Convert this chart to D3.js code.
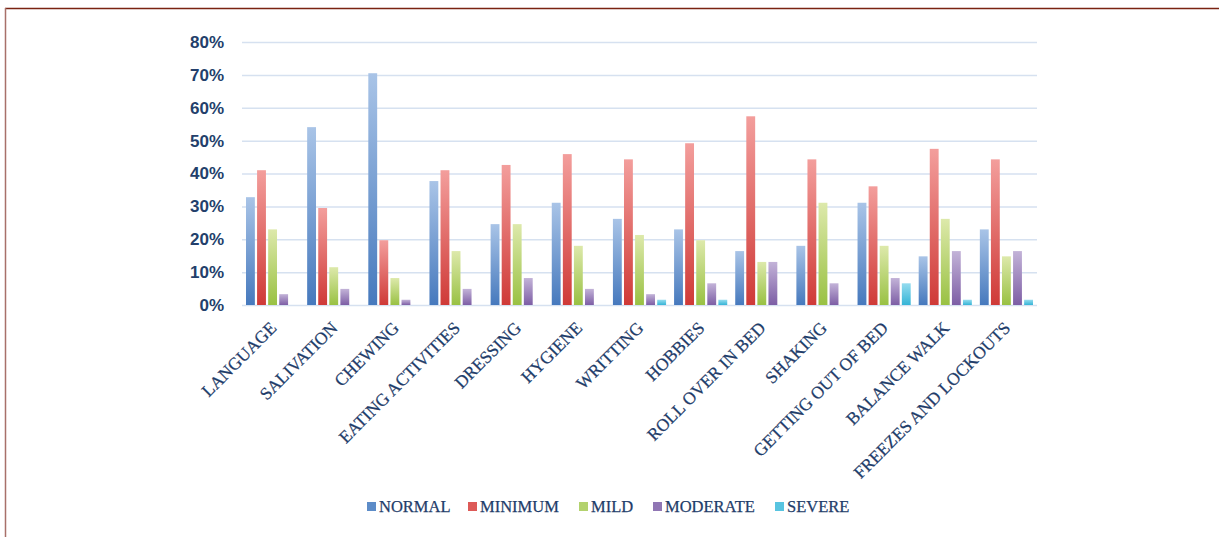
<!DOCTYPE html>
<html><head><meta charset="utf-8">
<script src="https://cdn.jsdelivr.net/npm/d3@7"></script>
<style>html,body{margin:0;padding:0;background:#fff;}svg{display:block;}</style>
</head><body>
<svg id="c" width="1219" height="537"></svg>
<script>
const categories = ["LANGUAGE","SALIVATION","CHEWING","EATING ACTIVITIES","DRESSING","HYGIENE","WRITTING","HOBBIES","ROLL OVER IN BED","SHAKING","GETTING OUT OF BED","BALANCE WALK","FREEZES AND LOCKOUTS"];
const seriesNames = ["NORMAL","MINIMUM","MILD","MODERATE","SEVERE"];
const normal   = [32.8,54.1,70.5,37.7,24.6,31.1,26.2,23.0,16.4,18.0,31.1,14.8,23.0];
const minimum  = [41.0,29.5,19.7,41.0,42.6,45.9,44.3,49.2,57.4,44.3,36.1,47.5,44.3];
const mild     = [23.0,11.5,8.2,16.4,24.6,18.0,21.3,19.7,13.1,31.1,18.0,26.2,14.8];
const moderate = [3.3,4.9,1.6,4.9,8.2,4.9,3.3,6.6,13.1,6.6,8.2,16.4,16.4];
const severe   = [0,0,0,0,0,0,1.6,1.6,0,0,6.6,1.6,1.6];
const yTicks = [0,10,20,30,40,50,60,70,80];

const seriesValues = [normal, minimum, mild, moderate, severe];
const colorsTop = ["#a9c4e7","#f39e9c","#dde9ab","#c3b3d8","#95dcef"];
const colorsBot = ["#4679bd","#cf3a37","#99c143","#7d5ea5","#35b4d6"];
const legendColors = ["#5d8cc8","#dd5a57","#b3d26e","#9076b4","#58c4e0"];

const svg = d3.select("#c");
// frame
svg.append("line").attr("x1",5).attr("x2",1219).attr("y1",8.5).attr("y2",8.5).attr("stroke","#7a2312").attr("stroke-width",1.5);
svg.append("line").attr("x1",5.5).attr("x2",5.5).attr("y1",8).attr("y2",537).attr("stroke","#a8706a").attr("stroke-width",1.5);

const defs = svg.append("defs");
seriesNames.forEach((s,i)=>{
  const g = defs.append("linearGradient").attr("id","g"+i).attr("x1",0).attr("x2",0).attr("y1",0).attr("y2",1);
  g.append("stop").attr("offset","0%").attr("stop-color",colorsTop[i]);
  g.append("stop").attr("offset","100%").attr("stop-color",colorsBot[i]);
});

const pLeft = 242, pRight = 1037, pTop = 42, pBottom = 305;
const y = d3.scaleLinear().domain([0,80]).range([pBottom, pTop]);
const x0 = d3.scaleBand().domain(categories).range([pLeft, pRight]).padding(0);
const x1 = d3.scaleBand().domain(seriesNames).range([4, x0.bandwidth()-4]).paddingInner(0.2).paddingOuter(0);

// gridlines
svg.append("g").selectAll("line").data(yTicks).join("line")
  .attr("x1", pLeft).attr("x2", pRight)
  .attr("y1", d=>y(d)+0.5).attr("y2", d=>y(d)+0.5)
  .attr("stroke","#d6e1f0").attr("stroke-width",1.5);

// y axis labels
const yAxis = d3.axisLeft(y).tickValues(yTicks).tickFormat(d=>d+"%").tickSize(0).tickPadding(0);
const ya = svg.append("g").attr("transform",`translate(224,0)`).call(yAxis);
ya.select(".domain").remove();
ya.selectAll("text").attr("font-family","Liberation Sans, Arial, sans-serif").attr("font-weight","bold")
  .attr("font-size","17px").attr("fill","#233f6b");

// bars
const groups = svg.append("g").selectAll("g").data(categories).join("g")
  .attr("transform", d=>`translate(${x0(d)},0)`);
groups.selectAll("rect").data((c,ci)=>seriesNames.map((s,si)=>({s,si,v:seriesValues[si][ci]})).filter(d=>d.v>0))
  .join("rect")
  .attr("x", d=>x1(d.s)).attr("width", x1.bandwidth())
  .attr("y", d=>y(d.v)).attr("height", d=>pBottom - y(d.v))
  .attr("fill", d=>`url(#g${d.si})`);

// x labels
const xAxis = d3.axisBottom(x0).tickSize(0).tickPadding(0);
const xa = svg.append("g").attr("transform",`translate(0,${pBottom})`).call(xAxis);
xa.select(".domain").remove();
xa.selectAll("text")
  .attr("font-family","Liberation Serif, Times New Roman, serif")
  .attr("font-size","17.5px").attr("fill","#1f3d6a")
  .attr("stroke","#1f3d6a").attr("stroke-width",0.25)
  .attr("text-anchor","end").attr("dy",0).attr("y",0)
  .attr("transform","translate(5,24) rotate(-45)");

// legend
const legendX = [367,468,579,653,775];
const lg = svg.append("g").selectAll("g").data(seriesNames).join("g")
  .attr("transform",(d,i)=>`translate(${legendX[i]},0)`);
lg.append("rect").attr("x",0).attr("y",502).attr("width",9).attr("height",9).attr("fill",(d,i)=>legendColors[i]);
lg.append("text").attr("x",12).attr("y",512).text(d=>d)
  .attr("font-family","Liberation Serif, Times New Roman, serif").attr("font-size","16.5px").attr("fill","#1f3d6a")
  .attr("stroke","#1f3d6a").attr("stroke-width",0.25);
</script>
</body></html>
